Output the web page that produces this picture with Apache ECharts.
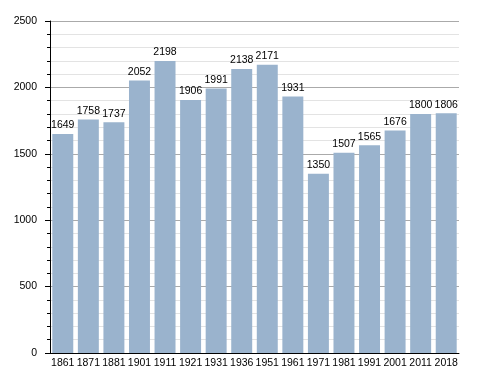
<!DOCTYPE html>
<html><head><meta charset="utf-8">
<script src="https://cdn.jsdelivr.net/npm/echarts@6/dist/echarts.min.js"></script>
<style>html,body{margin:0;padding:0;background:#fff}#c{width:488px;height:373px}</style>
</head><body><div id="c"></div>
<script>
const years = ['1861','1871','1881','1901','1911','1921','1931','1936','1951','1961','1971','1981','1991','2001','2011','2018'];
const population = [1649,1758,1737,2052,2198,1906,1991,2138,2171,1931,1350,1507,1565,1676,1800,1806];
const yTicks = [0,500,1000,1500,2000,2500];

const FONT = '"Liberation Sans", Arial, sans-serif';
const FS = 10.5;
const chart = echarts.init(document.getElementById('c'), null, {renderer:'canvas'});
chart.setOption({
  animation:false,
  textStyle:{fontFamily:FONT},
  grid:{left:50,right:29,top:21,bottom:20,containLabel:false},
  xAxis:{
    type:'category', data:years,
    axisLine:{lineStyle:{color:'#000',width:1}},
    axisTick:{show:false},
    axisLabel:{color:'#000',fontSize:FS,fontFamily:FONT,margin:5,interval:0}
  },
  yAxis:{
    type:'value', min:yTicks[0], max:yTicks[yTicks.length-1], interval:500,
    axisLine:{show:true,lineStyle:{color:'#000',width:1}},
    axisTick:{show:true,length:5,lineStyle:{color:'#000'}},
    minorTick:{show:true,splitNumber:5,length:3,lineStyle:{color:'#000'}},
    splitLine:{show:true,lineStyle:{color:'#aaaaaa',width:1}},
    minorSplitLine:{show:true,lineStyle:{color:'#e3e3e3',width:1}},
    axisLabel:{color:'#000',fontSize:FS,fontFamily:FONT,margin:13,formatter:v=>String(v)}
  },
  series:[{
    type:'bar', data:population,
    barCategoryGap:'18%',
    itemStyle:{color:'#9ab3cd'},
    label:{show:true,position:'top',color:'#000',fontSize:FS,fontFamily:FONT,distance:3}
  }]
});
</script></body></html>
